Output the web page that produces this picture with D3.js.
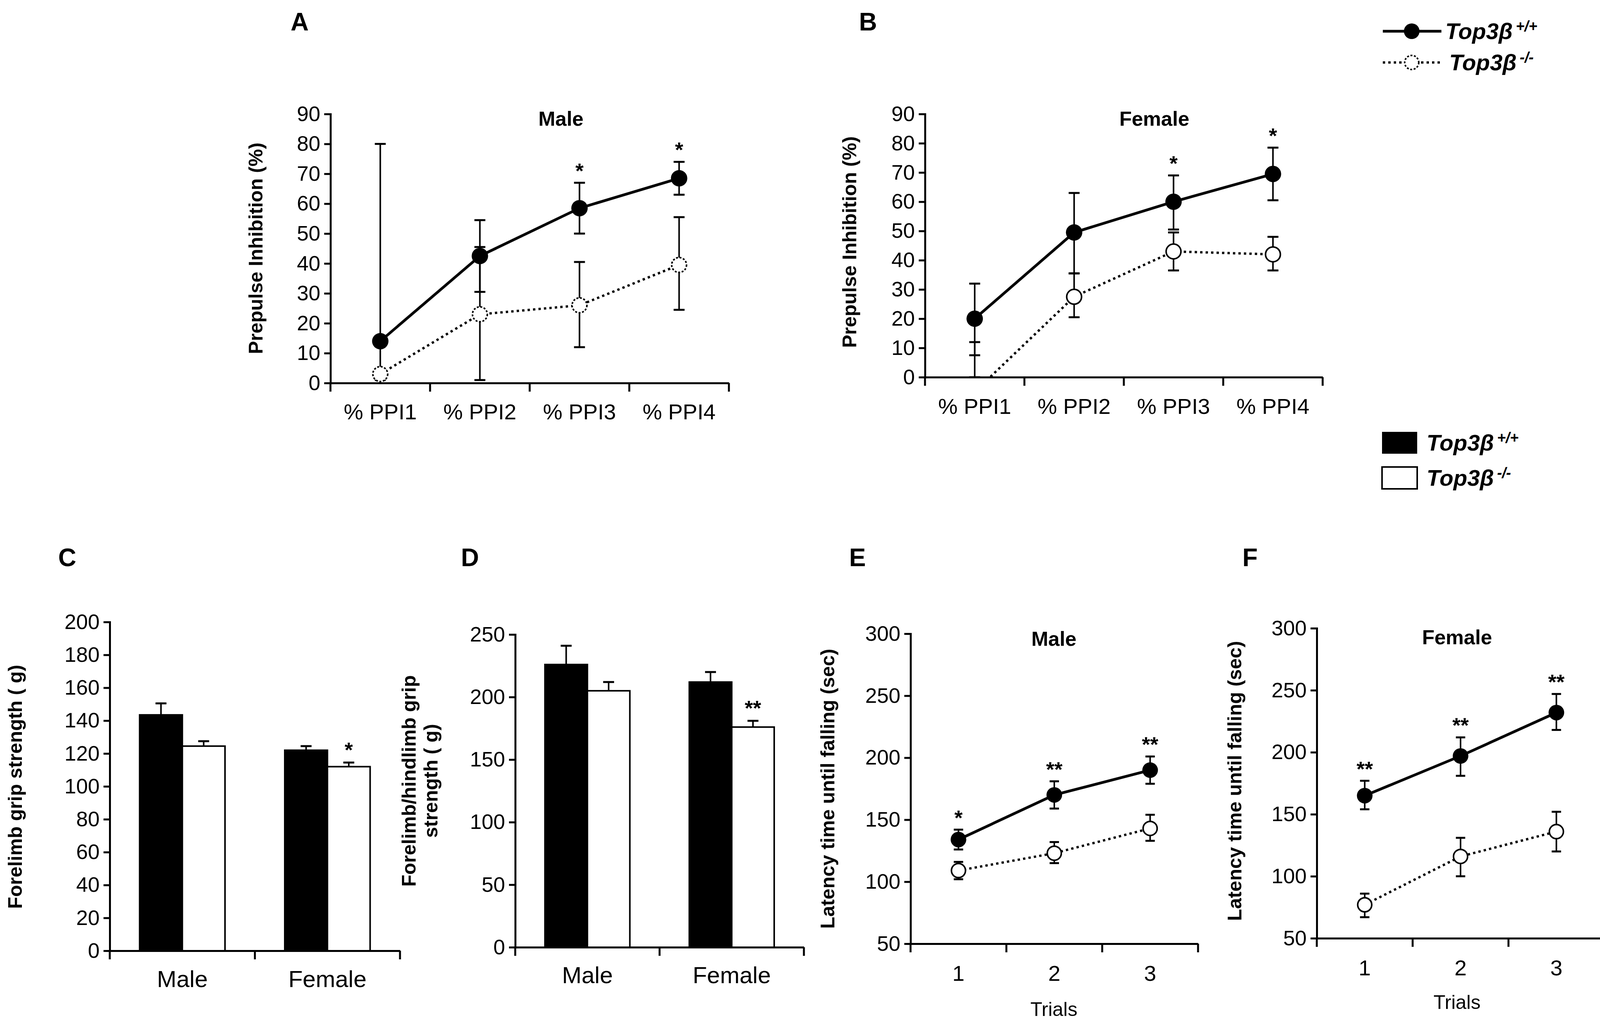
<!DOCTYPE html>
<html><head><meta charset="utf-8">
<script src="https://cdn.jsdelivr.net/npm/d3@7"></script>
<style>
body{margin:0;background:#fff}
.tick text{font-family:"Liberation Sans Narrow","Arial Narrow","Liberation Sans",sans-serif}
</style>
</head><body>
<svg id="fig" width="4148" height="2620"></svg>
<script>
// PPI panels (A male, B female)
var ppiCats = ["% PPI1","% PPI2","% PPI3","% PPI4"]
var ppiMaleWt = [14,42.5,58.5,68.5], ppiMaleWtHi = [80,54.5,67,74], ppiMaleWtLo = [3,30.5,50,63]
var ppiMaleKo = [3,23,26,39.5], ppiMaleKoHi = [3,45.5,40.5,55.5], ppiMaleKoLo = [1,1,12,24.5]
var ppiMaleStars = ["","","*","*"]
var ppiFemWt = [20,49.5,60,69.5], ppiFemWtHi = [32,63,69,78.5], ppiFemWtLo = [0,35.5,50.5,60.5]
var ppiFemKo = [-5,27.5,43,42], ppiFemKoHi = [12,35.5,49.5,48], ppiFemKoLo = [7.5,20.5,36.5,36.5]
var ppiFemStars = ["","","*","*"]
var ppiTicks = [0,10,20,30,40,50,60,70,80,90]

// grip strength panels (C, D)
var sexCats = ["Male","Female"]
var foreWt = [143.5,122], foreWtErr = [150.5,124.5]
var foreKo = [124.5,112], foreKoErr = [127.5,114.5]
var foreStars = ["","*"]
var foreTicks = [0,20,40,60,80,100,120,140,160,180,200]
var allWt = [226,212], allWtErr = [241,220]
var allKo = [205,176], allKoErr = [212,181]
var allStars = ["","**"]
var allTicks = [0,50,100,150,200,250]

// rotarod panels (E, F)
var trials = ["1","2","3"]
var rotMaleWt = [134,170,190], rotMaleWtLo = [126,159,179], rotMaleWtHi = [142,181,201]
var rotMaleKo = [109,123,143], rotMaleKoLo = [102,115,133], rotMaleKoHi = [116,132,154]
var rotMaleStars = ["*","**","**"]
var rotFemWt = [165,197,232], rotFemWtLo = [154,181,218], rotFemWtHi = [177,212,247]
var rotFemKo = [77,116,136], rotFemKoLo = [67,100,120], rotFemKoHi = [86,131,152]
var rotFemStars = ["**","**","**"]
var rotTicks = [50,100,150,200,250,300]

var svg = d3.select("#fig")
var BOLD = "'Liberation Sans',Arial,sans-serif"
var NARROW = "'Liberation Sans Narrow','Arial Narrow','Liberation Sans',sans-serif"

var drawAxes = function(g,xScale,yScale,ticks,box)
{
    var xAxis = d3.axisBottom(xScale).tickSize(0).tickFormat("")
    var xg = g.append("g").attr("transform","translate(0,"+box.bottom+")").call(xAxis)
    xg.select(".domain").attr("stroke-width",5)
    // category boundary ticks
    var edges = xScale.domain().map(function(c){return xScale(c)}).concat([box.right])
    xg.selectAll(".edge").data(edges).enter().append("line")
        .attr("x1",function(d){return d}).attr("x2",function(d){return d})
        .attr("y1",0).attr("y2",22).attr("stroke","#000").attr("stroke-width",5)
    var yAxis = d3.axisLeft(yScale).tickValues(ticks).tickSize(16).tickPadding(10)
    var yg = g.append("g").attr("transform","translate("+box.left+",0)").call(yAxis)
    yg.select(".domain").attr("stroke-width",5)
    yg.selectAll(".tick line").attr("stroke-width",5)
    yg.selectAll(".tick text").attr("font-size",54).attr("fill","#000")
}

var catLabels = function(g,xScale,y,size)
{
    g.selectAll(".cl").data(xScale.domain()).enter().append("text")
        .text(function(d){return d})
        .attr("x",function(d){return xScale(d)+xScale.bandwidth()/2})
        .attr("y",y).attr("text-anchor","middle")
        .attr("font-family",NARROW).attr("font-size",size)
}

var yLabel = function(lines,x,y)
{
    var t = svg.append("text").attr("transform","translate("+x+","+y+") rotate(270)")
        .attr("text-anchor","middle").attr("font-family",BOLD).attr("font-weight","bold")
        .attr("font-size",50)
    lines.forEach(function(l,i){
        t.append("tspan").attr("x",0).attr("dy",i==0?0:56).text(l)
    })
}

var label = function(txt,x,y,size,family,weight)
{
    svg.append("text").text(txt).attr("x",x).attr("y",y)
        .attr("font-family",family).attr("font-weight",weight||"bold").attr("font-size",size)
        .attr("text-anchor","middle")
}

var errBars = function(g,xScale,yScale,cats,lo,hi,cap)
{
    cats.forEach(function(c,i){
        var x = xScale(c)+xScale.bandwidth()/2
        g.append("line").attr("x1",x).attr("x2",x).attr("y1",yScale(lo[i])).attr("y2",yScale(hi[i]))
            .attr("stroke","#000").attr("stroke-width",4)
        ;[lo[i],hi[i]].forEach(function(v){
            g.append("line").attr("x1",x-cap).attr("x2",x+cap).attr("y1",yScale(v)).attr("y2",yScale(v))
                .attr("stroke","#000").attr("stroke-width",5)
        })
    })
}

var drawLinePanel = function(cfg)
{
    var box = cfg.box
    var xScale = d3.scaleBand().domain(cfg.cats).range([box.left,box.right])
    var yScale = d3.scaleLinear().domain(cfg.domain).range([box.bottom,box.top])
    var g = svg.append("g")
    var clipId = "clip"+cfg.id
    g.append("clipPath").attr("id",clipId).append("rect")
        .attr("x",box.left).attr("y",box.top-60).attr("width",box.right-box.left).attr("height",box.bottom-box.top+60)
    var plot = g.append("g").attr("clip-path","url(#"+clipId+")")
    var cx = function(c){return xScale(c)+xScale.bandwidth()/2}
    errBars(plot,xScale,yScale,cfg.cats,cfg.koLo,cfg.koHi,cfg.cap)
    errBars(plot,xScale,yScale,cfg.cats,cfg.wtLo,cfg.wtHi,cfg.cap)
    var line = d3.line().x(function(d,i){return cx(cfg.cats[i])}).y(function(d){return yScale(d)})
    plot.append("path").datum(cfg.ko).attr("d",line).attr("fill","none")
        .attr("stroke","#000").attr("stroke-width",6).attr("stroke-dasharray","6,8")
    plot.append("path").datum(cfg.wt).attr("d",line).attr("fill","none")
        .attr("stroke","#000").attr("stroke-width",7)
    plot.selectAll(".ko").data(cfg.ko).enter().append("circle")
        .attr("cx",function(d,i){return cx(cfg.cats[i])}).attr("cy",function(d){return yScale(d)})
        .attr("r",cfg.r-2).attr("fill","#fff").attr("stroke","#000").attr("stroke-width",4)
        .attr("stroke-dasharray",cfg.dashMarker?"5,4":null)
    plot.selectAll(".wt").data(cfg.wt).enter().append("circle")
        .attr("cx",function(d,i){return cx(cfg.cats[i])}).attr("cy",function(d){return yScale(d)})
        .attr("r",cfg.r).attr("fill","#000")
    g.selectAll(".star").data(cfg.stars).enter().append("text")
        .text(function(d){return d})
        .attr("x",function(d,i){return cx(cfg.cats[i])})
        .attr("y",function(d,i){return yScale(cfg.wtHi[i])-12})
        .attr("text-anchor","middle").attr("font-family",BOLD).attr("font-weight","bold").attr("font-size",54)
    drawAxes(g,xScale,yScale,cfg.ticks,box)
    catLabels(g,xScale,cfg.catY,cfg.catSize)
}

var drawBarPanel = function(cfg)
{
    var box = cfg.box
    var xScale = d3.scaleBand().domain(cfg.cats).range([box.left,box.right])
    var yScale = d3.scaleLinear().domain(cfg.domain).range([box.bottom,box.top])
    var inner = d3.scaleBand().domain(["wt","ko"]).range([0,xScale.bandwidth()]).paddingOuter(0.7)
    var g = svg.append("g")
    var series = [{k:"wt",v:cfg.wt,e:cfg.wtErr,fill:"#000"},{k:"ko",v:cfg.ko,e:cfg.koErr,fill:"#fff"}]
    series.forEach(function(s){
        var bx = function(i){return xScale(cfg.cats[i])+inner(s.k)}
        s.v.forEach(function(v,i){
            var x = bx(i)+inner.bandwidth()/2
            g.append("line").attr("x1",x).attr("x2",x).attr("y1",yScale(v)).attr("y2",yScale(s.e[i]))
                .attr("stroke","#000").attr("stroke-width",4)
            g.append("line").attr("x1",x-14).attr("x2",x+14).attr("y1",yScale(s.e[i])).attr("y2",yScale(s.e[i]))
                .attr("stroke","#000").attr("stroke-width",5)
        })
        g.selectAll(".b"+s.k).data(s.v).enter().append("rect")
            .attr("x",function(d,i){return bx(i)}).attr("y",function(d){return yScale(d)})
            .attr("width",inner.bandwidth()).attr("height",function(d){return yScale(0)-yScale(d)})
            .attr("fill",s.fill).attr("stroke","#000").attr("stroke-width",4)
    })
    g.selectAll(".star").data(cfg.stars).enter().append("text")
        .text(function(d){return d})
        .attr("x",function(d,i){return xScale(cfg.cats[i])+inner("ko")+inner.bandwidth()/2})
        .attr("y",function(d,i){return yScale(cfg.koErr[i])-14})
        .attr("text-anchor","middle").attr("font-family",BOLD).attr("font-weight","bold").attr("font-size",54)
    drawAxes(g,xScale,yScale,cfg.ticks,box)
    catLabels(g,xScale,cfg.catY,60)
}

drawLinePanel({id:"A",cats:ppiCats,domain:[0,90],ticks:ppiTicks,box:{left:846,right:1866,top:292,bottom:981},
    wt:ppiMaleWt,wtLo:ppiMaleWtLo,wtHi:ppiMaleWtHi,ko:ppiMaleKo,koLo:ppiMaleKoLo,koHi:ppiMaleKoHi,
    stars:ppiMaleStars,r:21,cap:14,catY:1074,catSize:56,dashMarker:true})
drawLinePanel({id:"B",cats:ppiCats,domain:[0,90],ticks:ppiTicks,box:{left:2368,right:3386,top:292,bottom:966},
    wt:ppiFemWt,wtLo:ppiFemWtLo,wtHi:ppiFemWtHi,ko:ppiFemKo,koLo:ppiFemKoLo,koHi:ppiFemKoHi,
    stars:ppiFemStars,r:21,cap:14,catY:1060,catSize:56})
drawBarPanel({cats:sexCats,domain:[0,200],ticks:foreTicks,box:{left:281,right:1024,top:1593,bottom:2435},
    wt:foreWt,wtErr:foreWtErr,ko:foreKo,koErr:foreKoErr,stars:foreStars,catY:2528})
drawBarPanel({cats:sexCats,domain:[0,250],ticks:allTicks,box:{left:1319,right:2058,top:1625,bottom:2426},
    wt:allWt,wtErr:allWtErr,ko:allKo,koErr:allKoErr,stars:allStars,catY:2518})
drawLinePanel({id:"E",cats:trials,domain:[50,300],ticks:rotTicks,box:{left:2331,right:3067,top:1623,bottom:2417},
    wt:rotMaleWt,wtLo:rotMaleWtLo,wtHi:rotMaleWtHi,ko:rotMaleKo,koLo:rotMaleKoLo,koHi:rotMaleKoHi,
    stars:rotMaleStars,r:20,cap:12,catY:2512,catSize:56})
drawLinePanel({id:"F",cats:trials,domain:[50,300],ticks:rotTicks,box:{left:3371,right:4107,top:1609,bottom:2403},
    wt:rotFemWt,wtLo:rotFemWtLo,wtHi:rotFemWtHi,ko:rotFemKo,koLo:rotFemKoLo,koHi:rotFemKoHi,
    stars:rotFemStars,r:20,cap:12,catY:2498,catSize:56})

// axis titles
yLabel(["Prepulse Inhibition (%)"],672,636)
yLabel(["Prepulse Inhibition (%)"],2192,620)
yLabel(["Forelimb grip strength ( g)"],56,2015)
yLabel(["Forelimb/hindlimb  grip","strength ( g)"],1064,2000)
yLabel(["Latency time until falling (sec)"],2136,2020)
yLabel(["Latency time until falling (sec)"],3178,2000)
label("Trials",2698,2602,50,NARROW,"normal")
label("Trials",3730,2584,50,NARROW,"normal")

// panel titles and letters
label("Male",1436,322,52,NARROW)
label("Female",2955,322,52,NARROW)
label("Male",2698,1654,52,NARROW)
label("Female",3730,1650,52,NARROW)
;[["A",767,78],["B",2222,78],["C",172,1450],["D",1203,1450],["E",2195,1450],["F",3200,1450]].forEach(function(p){
    label(p[0],p[1],p[2],64,BOLD)
})

// legends
var leg = svg.append("g")
leg.append("line").attr("x1",3540).attr("x2",3690).attr("y1",80).attr("y2",80).attr("stroke","#000").attr("stroke-width",7)
leg.append("circle").attr("cx",3614).attr("cy",80).attr("r",20)
leg.append("line").attr("x1",3540).attr("x2",3690).attr("y1",160).attr("y2",160).attr("stroke","#000").attr("stroke-width",6).attr("stroke-dasharray","6,8")
leg.append("circle").attr("cx",3614).attr("cy",160).attr("r",18).attr("fill","#fff").attr("stroke","#000").attr("stroke-width",4).attr("stroke-dasharray","5,4")
leg.append("rect").attr("x",3538).attr("y",1106).attr("width",90).attr("height",56).attr("fill","#000")
leg.append("rect").attr("x",3538).attr("y",1196).attr("width",90).attr("height",56).attr("fill","#fff").attr("stroke","#000").attr("stroke-width",4)
var legText = function(x,y,sup)
{
    var t = leg.append("text").attr("x",x).attr("y",y).attr("font-family",BOLD).attr("font-weight","bold")
        .attr("font-style","italic").attr("font-size",58)
    t.append("tspan").text("Top3β")
    t.append("tspan").text(sup).attr("font-size",38).attr("dy",-20).attr("dx",8)
}
legText(3700,100,"+/+")
legText(3710,180,"-/-")
legText(3652,1154,"+/+")
legText(3652,1244,"-/-")
</script>
</body></html>
